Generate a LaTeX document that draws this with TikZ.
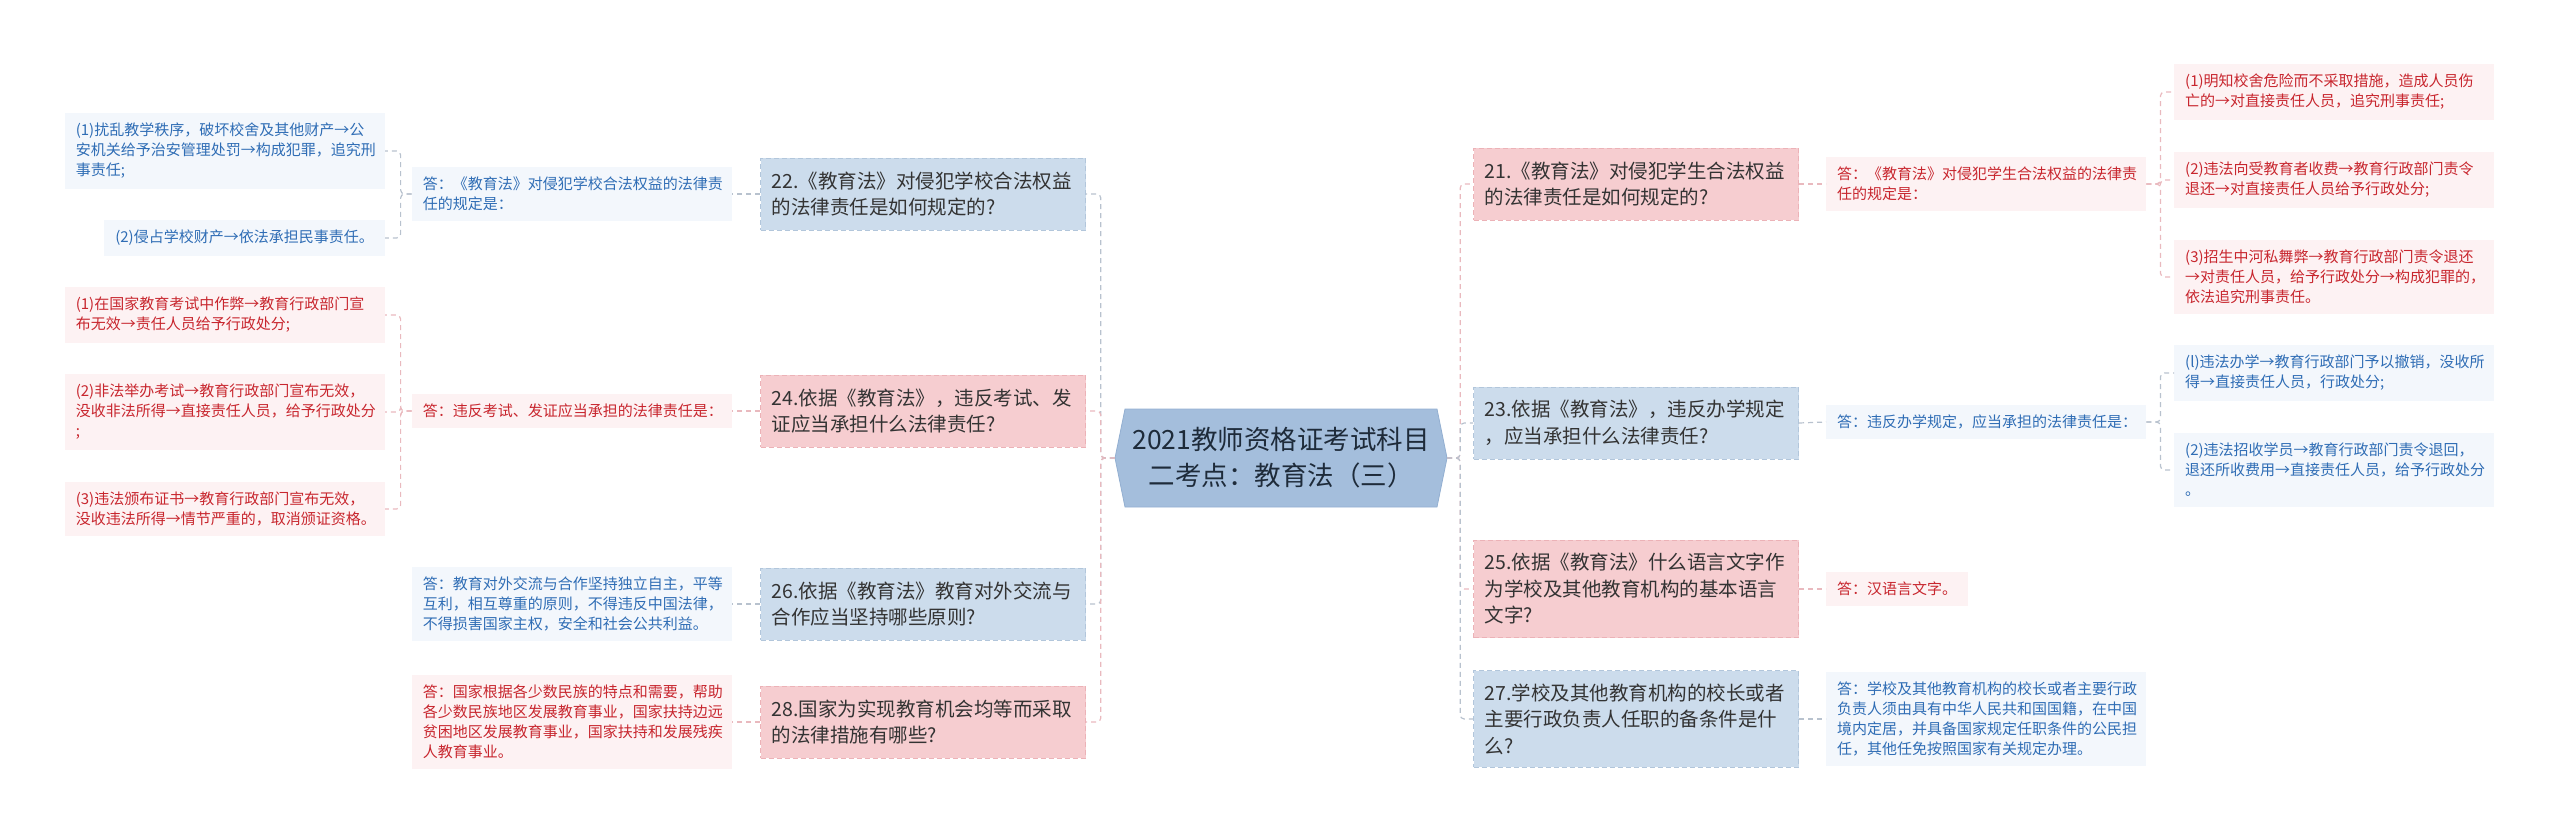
\documentclass[tikz,border=0pt]{standalone}
\usepackage{fontspec}
\setmainfont{Noto Sans CJK SC}
\usetikzlibrary{calc}
\definecolor{rootfill}{HTML}{A4BEDC}
\definecolor{rootline}{HTML}{93AFD1}
\definecolor{roottext}{HTML}{1E2B3A}
\definecolor{qbluefill}{HTML}{CCDCEC}
\definecolor{qblueline}{HTML}{B2C6DB}
\definecolor{qpinkfill}{HTML}{F6CDD0}
\definecolor{qpinkline}{HTML}{ECB2B7}
\definecolor{qtext}{HTML}{333333}
\definecolor{leafbluefill}{HTML}{F3F7FC}
\definecolor{leafbluetext}{HTML}{2F6DB5}
\definecolor{leafpinkfill}{HTML}{FDF2F3}
\definecolor{leafpinktext}{HTML}{C8262E}
\definecolor{linkbluecol}{HTML}{B8C2CE}
\definecolor{linkpinkcol}{HTML}{E9B9BE}

\begin{document}
\begin{tikzpicture}[x=1pt,y=-1pt]
        \tikzset{qbox/.style={dashed, dash pattern=on 5pt off 3pt, line width=1pt, text=qtext,
                font=\fontsize{19.5pt}{26.5pt}\selectfont, text width=303pt, align=left,
                inner xsep=11pt, inner ysep=13pt, minimum height=72pt},
            qblue/.style={qbox, fill=qbluefill, draw=qblueline},
            qpink/.style={qbox, fill=qpinkfill, draw=qpinkline},
            smallbox/.style={font=\fontsize{15pt}{20pt}\selectfont, align=left, inner xsep=11pt, inner ysep=10pt},
            boxblue/.style={smallbox, fill=leafbluefill, text=leafbluetext},
            boxpink/.style={smallbox, fill=leafpinkfill, text=leafpinktext},
            full/.style={text width=298pt},
            linkblue/.style={draw=linkbluecol, line width=1.2pt, dash pattern=on 5pt off 4pt, rounded corners=4pt},
            linkpink/.style={draw=linkpinkcol, line width=1.2pt, dash pattern=on 5pt off 4pt, rounded corners=4pt}}
        \useasboundingbox (0,0) rectangle (2560,835);

        % root
        \filldraw[fill=rootfill, draw=rootline, line width=0.8pt] (1115,458) -- (1125,409) -- (1437,409)
            -- (1447,458) -- (1437,507) -- (1125,507) -- cycle;
        \node[font=\fontsize{26.5pt}{36pt}\selectfont, text=roottext, align=center, minimum width=332pt,
            minimum height=98pt] (root) at (1281,458) {2021教师资格证考试科目\\二考点：教育法（三）};

        % left questions
        \node[qblue, anchor=east] (q22) at (1086,194) {22.《教育法》对侵犯学校合法权益\\的法律责任是如何规定的?};
        \node[qpink, anchor=east] (q24) at (1086,411) {24.依据《教育法》，违反考试、发\\证应当承担什么法律责任?};
        \node[qblue, anchor=east] (q26) at (1086,604) {26.依据《教育法》教育对外交流与\\合作应当坚持哪些原则?};
        \node[qpink, anchor=east] (q28) at (1086,722) {28.国家为实现教育机会均等而采取\\的法律措施有哪些?};

        % right questions
        \node[qpink, anchor=west] (q21) at (1473,184) {21.《教育法》对侵犯学生合法权益\\的法律责任是如何规定的?};
        \node[qblue, anchor=west] (q23) at (1473,423) {23.依据《教育法》，违反办学规定\\，应当承担什么法律责任?};
        \node[qpink, anchor=west] (q25) at (1473,589) {25.依据《教育法》什么语言文字作\\为学校及其他教育机构的基本语言\\文字?};
        \node[qblue, anchor=west] (q27) at (1473,719) {27.学校及其他教育机构的校长或者\\主要行政负责人任职的备条件是什\\么?};

        % left answers
        \node[boxblue, full, anchor=east] (a22) at (732,194) {答：《教育法》对侵犯学校合法权益的法律责\\任的规定是：};
        \node[boxpink, full, anchor=east] (a24) at (732,411) {答：违反考试、发证应当承担的法律责任是：};
        \node[boxblue, full, anchor=east] (a26) at (732,604) {答：教育对外交流与合作坚持独立自主，平等\\互利，相互尊重的原则，不得违反中国法律，\\不得损害国家主权，安全和社会公共利益。};
        \node[boxpink, full, anchor=east] (a28) at (732,722) {答：国家根据各少数民族的特点和需要，帮助\\各少数民族地区发展教育事业，国家扶持边远\\贫困地区发展教育事业，国家扶持和发展残疾\\人教育事业。};

        % right answers
        \node[boxpink, full, anchor=west] (a21) at (1826,184) {答：《教育法》对侵犯学生合法权益的法律责\\任的规定是：};
        \node[boxblue, full, anchor=west] (a23) at (1826,422) {答：违反办学规定，应当承担的法律责任是：};
        \node[boxpink, anchor=west] (a25) at (1826,589) {答：汉语言文字。};
        \node[boxblue, full, anchor=west] (a27) at (1826,719) {答：学校及其他教育机构的校长或者主要行政\\负责人须由具有中华人民共和国国籍，在中国\\境内定居，并具备国家规定任职条件的公民担\\任，其他任免按照国家有关规定办理。};

        % left leaves
        \node[boxblue, full, anchor=east] (l22a) at (385,151) {(1)扰乱教学秩序，破坏校舍及其他财产→公\\安机关给予治安管理处罚→构成犯罪，追究刑\\事责任;};
        \node[boxblue, anchor=east] (l22b) at (385,238) {(2)侵占学校财产→依法承担民事责任。};
        \node[boxpink, full, anchor=east] (l24a) at (385,315) {(1)在国家教育考试中作弊→教育行政部门宣\\布无效→责任人员给予行政处分;};
        \node[boxpink, full, anchor=east] (l24b) at (385,412) {(2)非法举办考试→教育行政部门宣布无效，\\没收非法所得→直接责任人员，给予行政处分\\;};
        \node[boxpink, full, anchor=east] (l24c) at (385,509) {(3)违法颁布证书→教育行政部门宣布无效，\\没收违法所得→情节严重的，取消颁证资格。};

        % right leaves
        \node[boxpink, full, anchor=west] (l21a) at (2174,92) {(1)明知校舍危险而不采取措施，造成人员伤\\亡的→对直接责任人员，追究刑事责任;};
        \node[boxpink, full, anchor=west] (l21b) at (2174,180) {(2)违法向受教育者收费→教育行政部门责令\\退还→对直接责任人员给予行政处分;};
        \node[boxpink, full, anchor=west] (l21c) at (2174,277) {(3)招生中河私舞弊→教育行政部门责令退还\\→对责任人员，给予行政处分→构成犯罪的，\\依法追究刑事责任。};
        \node[boxblue, full, anchor=west] (l23a) at (2174,373) {(l)违法办学→教育行政部门予以撤销，没收所\\得→直接责任人员，行政处分;};
        \node[boxblue, full, anchor=west] (l23b) at (2174,470) {(2)违法招收学员→教育行政部门责令退回，\\退还所收费用→直接责任人员，给予行政处分\\。};

        % branches
        \foreach \q/\s in {q22/linkblue, q24/linkpink, q26/linkblue, q28/linkpink}
            \draw[\s] (root.west) -- ++(-14,0) |- (\q.east);
        \foreach \q/\s in {q21/linkpink, q23/linkblue, q25/linkpink, q27/linkblue}
            \draw[\s] (root.east) -- ++(13,0) |- (\q.west);
        \foreach \n/\s in {22/linkblue, 24/linkpink, 26/linkblue, 28/linkpink}
            \draw[\s] (q\n.west) -- (a\n.east);
        \foreach \n/\s in {21/linkpink, 23/linkblue, 25/linkpink, 27/linkblue}
            \draw[\s] (q\n.east) -- (a\n.west);
        \foreach \l in {l22a, l22b}
            \draw[linkblue] (a22.west) -- ++(-11,0) |- (\l.east);
        \foreach \l in {l24a, l24b, l24c}
            \draw[linkpink] (a24.west) -- ++(-11,0) |- (\l.east);
        \foreach \l in {l21a, l21b, l21c}
            \draw[linkpink] (a21.east) -- ++(14,0) |- (\l.west);
        \foreach \l in {l23a, l23b}
            \draw[linkblue] (a23.east) -- ++(14,0) |- (\l.west);
\end{tikzpicture}
\end{document}
